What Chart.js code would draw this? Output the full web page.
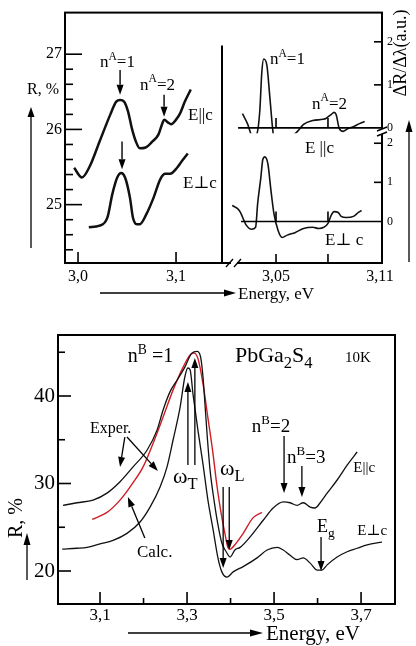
<!DOCTYPE html>
<html lang="en">
<head>
<meta charset="UTF-8">
<title>PbGa2S4 reflection spectra</title>
<script src="https://cdn.jsdelivr.net/npm/chart.js"></script>
<style>
  body { margin: 0; background: #fff; }
  #wrap { position: relative; width: 416px; height: 646px; }
  canvas { position: absolute; left: 0; }
</style>
</head>
<body>
<div id="wrap">
  <canvas id="topChart" width="416" height="310" style="top:0"></canvas>
  <canvas id="botChart" width="416" height="336" style="top:310px"></canvas>
</div>
<script>
// ---- top left: reflectance R, % (n=1, n=2 of series A)
const topParE = [2.996, 3.004, 3.012, 3.022, 3.033, 3.039, 3.043, 3.047, 3.051, 3.055, 3.059, 3.063, 3.069, 3.076, 3.082, 3.086, 3.088, 3.092, 3.095, 3.100, 3.104, 3.109, 3.115];
const topParR = [25.49, 25.36, 25.51, 25.84, 26.20, 26.37, 26.39, 26.37, 26.24, 26.01, 25.84, 25.75, 25.76, 25.84, 25.93, 26.08, 26.13, 26.09, 26.07, 26.13, 26.21, 26.37, 26.53];
const topPerpE = [3.011, 3.022, 3.030, 3.035, 3.040, 3.044, 3.048, 3.053, 3.056, 3.060, 3.063, 3.070, 3.077, 3.084, 3.089, 3.094, 3.101, 3.106, 3.112];
const topPerpR = [24.70, 24.72, 24.83, 25.14, 25.36, 25.42, 25.36, 25.09, 24.83, 24.74, 24.74, 24.88, 25.09, 25.34, 25.41, 25.41, 25.49, 25.58, 25.68];

// ---- top right: dR/dlambda (a.u.)
const dParE = [3.0306, 3.0335, 3.0365, 3.0388, 3.0406, 3.0418, 3.0429, 3.0447, 3.0465, 3.0482, 3.0494, 3.0512, 3.0541, 3.0582, 3.0624, 3.0659, 3.0712, 3.0771, 3.0788, 3.0818, 3.0835, 3.0847, 3.0865, 3.0888, 3.0918, 3.0947, 3.0982, 3.1012];
const dParV = [0.33, 0.10, -0.20, -0.15, 0.38, 1.30, 1.60, 1.46, 0.68, -0.08, -0.36, -0.43, -0.38, -0.24, -0.08, 0.08, 0.17, 0.20, 0.22, 0.31, 0.36, 0.31, -0.01, -0.08, -0.01, 0.03, 0.10, 0.15];
const dPerpE = [3.0247, 3.0288, 3.0329, 3.0359, 3.0382, 3.0394, 3.0412, 3.0424, 3.0435, 3.0453, 3.0471, 3.0488, 3.0512, 3.0535, 3.0565, 3.0612, 3.0659, 3.0712, 3.0747, 3.0776, 3.0800, 3.0818, 3.0835, 3.0859, 3.0876, 3.0906, 3.0947, 3.0976, 3.0994];
const dPerpV = [0.41, 0.28, -0.10, -0.20, -0.15, 0.46, 1.11, 1.59, 1.65, 1.47, 0.78, 0.20, -0.23, -0.41, -0.35, -0.28, -0.18, -0.15, -0.18, -0.15, -0.05, 0.15, 0.25, 0.23, 0.13, 0.10, 0.13, 0.23, 0.28];

// ---- bottom: PbGa2S4 10K, series B
const botParE = [3.015, 3.047, 3.084, 3.116, 3.146, 3.176, 3.208, 3.231, 3.245, 3.261, 3.277, 3.295, 3.311, 3.323, 3.331, 3.337, 3.342, 3.347, 3.353, 3.362, 3.371, 3.380, 3.390, 3.399, 3.410, 3.422, 3.445, 3.475, 3.498, 3.521, 3.537, 3.553, 3.567, 3.583, 3.594, 3.606, 3.622, 3.645, 3.668, 3.691];
const botParR = [27.5, 27.8, 28.1, 28.9, 30.2, 31.9, 33.8, 36.1, 38.4, 40.5, 41.8, 43.3, 44.9, 45.1, 44.5, 42.0, 38.5, 35.0, 31.5, 28.1, 25.3, 23.2, 22.2, 21.6, 22.4, 22.7, 23.9, 25.8, 27.2, 27.9, 27.8, 27.5, 27.8, 27.3, 27.2, 27.8, 28.9, 30.4, 32.1, 33.6];
const botPerpE = [3.013, 3.047, 3.070, 3.100, 3.130, 3.162, 3.192, 3.215, 3.238, 3.254, 3.268, 3.284, 3.295, 3.302, 3.307, 3.314, 3.325, 3.337, 3.348, 3.360, 3.371, 3.380, 3.392, 3.406, 3.429, 3.461, 3.484, 3.507, 3.521, 3.537, 3.553, 3.567, 3.583, 3.599, 3.610, 3.622, 3.645, 3.668, 3.691, 3.714, 3.748];
const botPerpR = [22.5, 22.6, 22.7, 23.1, 23.5, 24.3, 25.6, 27.3, 29.6, 31.9, 35.0, 38.7, 42.2, 43.2, 43.0, 40.1, 36.1, 32.1, 28.1, 24.7, 21.5, 19.9, 19.3, 19.9, 20.5, 21.5, 22.4, 22.7, 22.4, 21.8, 21.3, 21.5, 20.9, 20.1, 20.1, 20.7, 21.6, 22.2, 22.6, 23.0, 23.3];
const calcE = [3.082, 3.116, 3.146, 3.176, 3.199, 3.222, 3.245, 3.268, 3.291, 3.307, 3.316, 3.325, 3.337, 3.348, 3.360, 3.367, 3.376, 3.387, 3.394, 3.399, 3.410, 3.429, 3.452, 3.472];
const calcR = [25.9, 26.7, 28.1, 30.1, 31.9, 34.6, 37.6, 40.7, 43.3, 44.7, 44.9, 44.3, 41.3, 37.5, 33.3, 30.4, 27.3, 24.3, 22.7, 22.5, 23.0, 24.3, 26.1, 26.7];

// ---- ticks
const topLeftTicksX = [3.0, 3.1];
const topRightTicksX = [3.05, 3.08, 3.11];
const topLeftTicksY = [25, 26, 27];
const topLeftMinorY = [24.4, 24.6, 24.8, 25.2, 25.4, 25.6, 25.8, 26.2, 26.4, 26.6, 26.8];
const topRightTicksY = [0, 1, 2];
const botTicksX = [3.1, 3.3, 3.5, 3.7];
const botMinorX = [3.2, 3.4, 3.6];
const botTicksY = [20, 30, 40];
const botMinorY = [25, 35, 45];

// ---- annotations (data coordinates)
const topLeftArrows = [[3.0429, 26.79, 3.0429, 26.46], [3.0878, 26.46, 3.0878, 26.17], [3.0449, 25.84, 3.0449, 25.47]];
const topLeftLabels = [
  { x: 3.0224, y: 26.83, parts: [['n', 0], ['A', 1], ['=1', 0]] },
  { x: 3.0633, y: 26.53, parts: [['n', 0], ['A', 1], ['=2', 0]] },
  { x: 3.1122, y: 26.13, parts: [['E||c', 0]] },
  { x: 3.1071, y: 25.22, parts: [['E\u22A5c', 0]] }
];
const topRightLabelsU = [
  { x: 3.0465, y: 1.48, parts: [['n', 0], ['A', 1], ['=1', 0]] },
  { x: 3.0708, y: 0.45, parts: [['n', 0], ['A', 1], ['=2', 0]] },
  { x: 3.0667, y: -0.59, parts: [['E ||c', 0]] }
];
const topRightLabelsD = [
  { x: 3.0783, y: -0.61, parts: [['E\u22A5 c', 0]] }
];
const botArrows = [
  [3.157, 35.31, 3.146, 31.89], [3.162, 35.31, 3.233, 31.43],
  [3.203, 23.77, 3.164, 28.46],
  [3.302, 32.11, 3.302, 41.6], [3.318, 32.11, 3.318, 44.34],
  [3.383, 29.6, 3.383, 20.34], [3.397, 29.6, 3.397, 22.4],
  [3.523, 35.43, 3.523, 28.91], [3.564, 32.0, 3.564, 28.46],
  [3.608, 23.89, 3.608, 20.0]
];
const botLabels = [
  { x: 3.164, y: 43.89, size: 20, parts: [['n', 0], ['B', 1], [' =1', 0]] },
  { x: 3.410, y: 43.89, size: 22, parts: [['PbGa', 0], ['2', -1], ['S', 0], ['4', -1]] },
  { x: 3.663, y: 43.89, size: 15, parts: [['10K', 0]] },
  { x: 3.077, y: 35.77, size: 16, parts: [['Exper.', 0]] },
  { x: 3.185, y: 21.6, size: 17, parts: [['Calc.', 0]] },
  { x: 3.268, y: 30.06, size: 22, parts: [['\u03C9', 0], ['T', -1]] },
  { x: 3.376, y: 30.97, size: 22, parts: [['\u03C9', 0], ['L', -1]] },
  { x: 3.449, y: 35.89, size: 19, parts: [['n', 0], ['B', 1], ['=2', 0]] },
  { x: 3.530, y: 32.34, size: 19, parts: [['n', 0], ['B', 1], ['=3', 0]] },
  { x: 3.682, y: 31.31, size: 15, parts: [['E||c', 0]] },
  { x: 3.599, y: 24.46, size: 18, parts: [['E', 0], ['g', -1]] },
  { x: 3.691, y: 24.11, size: 15, parts: [['E\u22A5c', 0]] }
];

const serif = '"Liberation Serif", "DejaVu Serif", serif';
const pts = (xs, ys) => xs.map((x, i) => ({ x: x, y: ys[i] }));
const setTicks = vals => s => { s.ticks = vals.map(v => ({ value: v })); };
const fixW = w => s => { s.width = w; };
const fixH = h => s => { s.height = h; };
const comma = d => v => v.toFixed(d).replace('.', ',');

function line(ctx, x1, y1, x2, y2) {
  ctx.beginPath(); ctx.moveTo(x1, y1); ctx.lineTo(x2, y2); ctx.stroke();
}
function arrow(ctx, x1, y1, x2, y2, head, half) {
  head = head || 9; half = half || 3.2;
  const a = Math.atan2(y2 - y1, x2 - x1);
  const bx = x2 - head * Math.cos(a), by = y2 - head * Math.sin(a);
  line(ctx, x1, y1, bx, by);
  ctx.beginPath();
  ctx.moveTo(x2, y2);
  ctx.lineTo(bx + half * Math.sin(a), by - half * Math.cos(a));
  ctx.lineTo(bx - half * Math.sin(a), by + half * Math.cos(a));
  ctx.closePath(); ctx.fill();
}
function rich(ctx, x, y, parts, size) {
  ctx.textAlign = 'left'; ctx.textBaseline = 'alphabetic';
  for (const [t, m] of parts) {
    const fs = m === 1 ? size * 0.68 : m === -1 ? size * 0.75 : size;
    ctx.font = fs + 'px ' + serif;
    const dy = m === 1 ? -size * 0.42 : m === -1 ? size * 0.28 : 0;
    ctx.fillText(t, x, y + dy);
    x += ctx.measureText(t).width;
  }
}
function vtext(ctx, text, x, y, size) {
  ctx.save(); ctx.translate(x, y); ctx.rotate(-Math.PI / 2);
  ctx.font = size + 'px ' + serif; ctx.textAlign = 'center'; ctx.textBaseline = 'middle';
  ctx.fillText(text, 0, 0); ctx.restore();
}

const noGrid = { display: false, drawTicks: false };
const noBorder = { display: false };
const lineDs = (data, xID, yID, w, color) => ({
  data: data, xAxisID: xID, yAxisID: yID, borderColor: color || '#111', borderWidth: w,
  pointRadius: 0, fill: false, cubicInterpolationMode: 'monotone'
});

// ---------- top figure
const topDecor = {
  id: 'topDecor',
  afterDraw(chart) {
    const { ctx, chartArea: a } = chart;
    const { xL, xR, yL, yU, yD } = chart.scales;
    ctx.save();
    ctx.strokeStyle = '#000'; ctx.fillStyle = '#000';
    ctx.lineWidth = 2;
    ctx.strokeRect(a.left, a.top, a.right - a.left, a.bottom - a.top);
    line(ctx, xL.right, a.top + 33, xL.right, a.bottom);

    ctx.lineWidth = 1.6;
    topLeftTicksY.forEach(v => line(ctx, a.left, yL.getPixelForValue(v), a.left + 17, yL.getPixelForValue(v)));
    topLeftMinorY.forEach(v => line(ctx, a.left, yL.getPixelForValue(v), a.left + 8, yL.getPixelForValue(v)));
    topLeftTicksX.forEach(v => line(ctx, xL.getPixelForValue(v), a.bottom, xL.getPixelForValue(v), a.bottom - 11));
    topRightTicksX.slice(0, 2).forEach(v => line(ctx, xR.getPixelForValue(v), a.bottom, xR.getPixelForValue(v), a.bottom - 9));
    [yU, yD].forEach(s => topRightTicksY.slice(1).forEach(v => line(ctx, a.right, s.getPixelForValue(v), a.right - 8, s.getPixelForValue(v))));

    // zero lines of the derivative spectra
    [[yU, 3.0281], [yD, 3.0298]].forEach(([s, x0]) => {
      const y0 = s.getPixelForValue(0);
      line(ctx, xR.getPixelForValue(x0), y0, a.right, y0);
      topRightTicksX.slice(0, 2).forEach(v => line(ctx, xR.getPixelForValue(v), y0, xR.getPixelForValue(v), y0 - 10));
    });

    // axis breaks
    ctx.fillStyle = '#fff';
    ctx.fillRect(231, a.bottom - 3, 6, 6);
    ctx.fillRect(a.right - 3, 129, 6, 5);
    ctx.fillStyle = '#000';
    ctx.lineWidth = 1.4;
    line(ctx, 226, a.bottom + 4, 233, a.bottom - 4);
    line(ctx, 234, a.bottom + 4, 241, a.bottom - 4);
    line(ctx, a.right - 5, 131, a.right + 5, 127);
    line(ctx, a.right - 5, 136, a.right + 5, 132);

    // arrows and labels
    ctx.lineWidth = 1.4;
    topLeftArrows.forEach(([x1, y1, x2, y2]) =>
      arrow(ctx, xL.getPixelForValue(x1), yL.getPixelForValue(y1), xL.getPixelForValue(x2), yL.getPixelForValue(y2), 10, 3.5));
    topLeftLabels.forEach(l => rich(ctx, xL.getPixelForValue(l.x), yL.getPixelForValue(l.y), l.parts, 17));
    topRightLabelsU.forEach(l => rich(ctx, xR.getPixelForValue(l.x), yU.getPixelForValue(l.y), l.parts, 17));
    topRightLabelsD.forEach(l => rich(ctx, xR.getPixelForValue(l.x), yD.getPixelForValue(l.y), l.parts, 17));

    // axis titles
    ctx.lineWidth = 1.3;
    rich(ctx, 27, 94, [['R, %', 0]], 16);
    arrow(ctx, 31, 248, 31, 107, 10, 3.5);
    arrow(ctx, 100, 293, 236, 293, 12, 3.5);
    rich(ctx, 238, 299, [['Energy, eV', 0]], 17);
    vtext(ctx, '\u0394R/\u0394\u03BB(a.u.)', 401, 53, 18);
    arrow(ctx, 409, 262, 409, 120, 12, 3.5);
    ctx.restore();
  }
};

new Chart(document.getElementById('topChart'), {
  type: 'line',
  data: {
    datasets: [
      lineDs(pts(topParE, topParR), 'xL', 'yL', 2.5),
      lineDs(pts(topPerpE, topPerpR), 'xL', 'yL', 2.5),
      lineDs(pts(dParE, dParV), 'xR', 'yU', 1.6),
      lineDs(pts(dPerpE, dPerpV), 'xR', 'yD', 1.6)
    ]
  },
  options: {
    responsive: false, animation: false, devicePixelRatio: 1, events: [],
    layout: { padding: { top: 10, left: 0, right: 0, bottom: 0 } },
    plugins: { legend: { display: false }, tooltip: { enabled: false } },
    scales: {
      xL: {
        type: 'linear', position: 'bottom', stack: 'bx', stackWeight: 157, min: 2.9867, max: 3.1469,
        grid: noGrid, border: noBorder,
        ticks: { color: '#000', font: { family: serif, size: 16 }, padding: 4, maxRotation: 0, callback: comma(1) },
        afterBuildTicks: setTicks(topLeftTicksX), afterFit: fixH(47)
      },
      xR: {
        type: 'linear', position: 'bottom', stack: 'bx', stackWeight: 160, min: 3.0188, max: 3.1112,
        grid: noGrid, border: noBorder,
        ticks: { color: '#000', font: { family: serif, size: 16 }, padding: 4, maxRotation: 0, callback: comma(2) },
        afterBuildTicks: setTicks(topRightTicksX), afterFit: fixH(47)
      },
      yL: {
        type: 'linear', position: 'left', min: 24.224, max: 27.553,
        grid: noGrid, border: noBorder,
        ticks: { color: '#000', font: { family: serif, size: 16 }, padding: 3 },
        afterBuildTicks: setTicks(topLeftTicksY), afterFit: fixW(65)
      },
      yU: {
        type: 'linear', position: 'right', stack: 'ry', stackWeight: 122, min: -0.126, max: 2.678,
        grid: noGrid, border: noBorder,
        ticks: { color: '#000', font: { family: serif, size: 12 }, padding: 5 },
        afterBuildTicks: setTicks(topRightTicksY), afterFit: fixW(34)
      },
      yD: {
        type: 'linear', position: 'right', stack: 'ry', stackWeight: 131, min: -1.063, max: 2.253,
        grid: noGrid, border: noBorder,
        ticks: { color: '#000', font: { family: serif, size: 12 }, padding: 5 },
        afterBuildTicks: setTicks(topRightTicksY), afterFit: fixW(34)
      }
    }
  },
  plugins: [topDecor]
});

// ---------- bottom figure
const botDecor = {
  id: 'botDecor',
  afterDraw(chart) {
    const { ctx, chartArea: a } = chart;
    const { x, y } = chart.scales;
    ctx.save();
    ctx.strokeStyle = '#000'; ctx.fillStyle = '#000';
    ctx.lineWidth = 2;
    ctx.strokeRect(a.left, a.top, a.right - a.left, a.bottom - a.top);
    ctx.lineWidth = 1.6;
    botTicksY.forEach(v => line(ctx, a.left, y.getPixelForValue(v), a.left + 13, y.getPixelForValue(v)));
    botMinorY.forEach(v => line(ctx, a.left, y.getPixelForValue(v), a.left + 7, y.getPixelForValue(v)));
    botTicksX.forEach(v => line(ctx, x.getPixelForValue(v), a.bottom, x.getPixelForValue(v), a.bottom - 12));
    botMinorX.forEach(v => line(ctx, x.getPixelForValue(v), a.bottom, x.getPixelForValue(v), a.bottom - 6));

    ctx.lineWidth = 1.3;
    botArrows.forEach(([x1, y1, x2, y2]) =>
      arrow(ctx, x.getPixelForValue(x1), y.getPixelForValue(y1), x.getPixelForValue(x2), y.getPixelForValue(y2), 10, 3.5));
    botLabels.forEach(l => rich(ctx, x.getPixelForValue(l.x), y.getPixelForValue(l.y), l.parts, l.size));

    vtext(ctx, 'R, %', 17, 208, 20);
    arrow(ctx, 27, 270, 27, 223, 12, 3.5);
    arrow(ctx, 128, 323, 263, 323, 13, 3.5);
    rich(ctx, 266, 330, [['Energy, eV', 0]], 21);
    ctx.restore();
  }
};

new Chart(document.getElementById('botChart'), {
  type: 'line',
  data: {
    datasets: [
      lineDs(pts(botParE, botParR), 'x', 'y', 1.3),
      lineDs(pts(botPerpE, botPerpR), 'x', 'y', 1.3),
      lineDs(pts(calcE, calcR), 'x', 'y', 1.4, '#d01c24')
    ]
  },
  options: {
    responsive: false, animation: false, devicePixelRatio: 1, events: [],
    layout: { padding: { top: 25, left: 0, right: 21, bottom: 0 } },
    plugins: { legend: { display: false }, tooltip: { enabled: false } },
    scales: {
      x: {
        type: 'linear', position: 'bottom', min: 3.0034, max: 3.778,
        grid: noGrid, border: noBorder,
        ticks: { color: '#000', font: { family: serif, size: 17 }, padding: 1, maxRotation: 0, callback: comma(1) },
        afterBuildTicks: setTicks(botTicksX), afterFit: fixH(42)
      },
      y: {
        type: 'linear', position: 'left', min: 16.23, max: 46.97,
        grid: noGrid, border: noBorder,
        ticks: { color: '#000', font: { family: serif, size: 21 }, padding: 3 },
        afterBuildTicks: setTicks(botTicksY), afterFit: fixW(58)
      }
    }
  },
  plugins: [botDecor]
});
</script>
</body>
</html>
